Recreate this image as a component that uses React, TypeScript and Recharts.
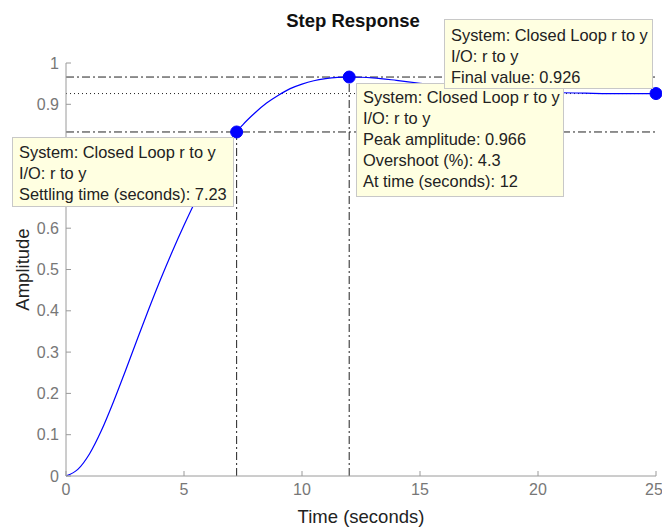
import React from 'react';
import { ComposedChart, Line, XAxis, YAxis, ReferenceLine, ReferenceDot } from 'recharts';

// step response samples
const time = [0, 0.5, 1, 1.5, 2, 2.5, 3, 3.5, 4, 4.5, 5, 5.5, 6, 6.5, 7, 7.23, 7.5, 8, 8.5, 9, 9.5, 10, 10.5, 11, 11.5, 12, 12.5, 13, 14, 15, 16, 17, 18, 19, 20, 21, 22, 23, 24, 25];
const amplitude = [0, 0.016, 0.054, 0.11, 0.178, 0.252, 0.328, 0.403, 0.475, 0.543, 0.607, 0.667, 0.722, 0.771, 0.813, 0.833, 0.851, 0.879, 0.903, 0.922, 0.938, 0.949, 0.957, 0.962, 0.965, 0.966, 0.9655, 0.964, 0.958, 0.951, 0.945, 0.94, 0.936, 0.933, 0.93, 0.928, 0.927, 0.926, 0.926, 0.926];

const xTicks = [0, 5, 10, 15, 20, 25];
const yTicks = [0, 0.1, 0.2, 0.3, 0.4, 0.5, 0.6, 0.7, 0.8, 0.9, 1];

const settlingTime = 7.23;
const settlingLevel = 0.833;
const peakTime = 12;
const peakAmplitude = 0.966;
const finalTime = 25;
const finalValue = 0.926;

const finalTip = ['System: Closed Loop r to y', 'I/O: r to y', 'Final value: 0.926'];
const peakTip = ['System: Closed Loop r to y', 'I/O: r to y', 'Peak amplitude: 0.966', 'Overshoot (%): 4.3', 'At time (seconds): 12'];
const settlingTip = ['System: Closed Loop r to y', 'I/O: r to y', 'Settling time (seconds): 7.23'];

const data = time.map((t, i) => ({ t, y: amplitude[i] }));

const FONT = '"Liberation Sans", Arial, Helvetica, sans-serif';
const AXIS = '#9a9a9a';
const DASHDOT = '8 3 2 3';

function DataTip({ lines, left, top, width, height, padTop }: { lines: string[]; left: number; top: number; width: number; height: number; padTop: number }) {
  return (
    <div
      style={{
        position: 'absolute',
        left,
        top,
        width,
        height,
        boxSizing: 'border-box',
        background: '#ffffe1',
        border: '1px solid #c8c8c8',
        padding: `${padTop}px 0 0 6px`,
        fontFamily: FONT,
        fontSize: 16.4,
        lineHeight: '21px',
        color: '#222',
        whiteSpace: 'nowrap',
        overflow: 'hidden',
      }}
    >
      {lines.map((l) => (
        <div key={l}>{l}</div>
      ))}
    </div>
  );
}

export default function App() {
  return (
    <div style={{ position: 'absolute', left: 0, top: 0, width: 662, height: 527, background: '#fff', fontFamily: FONT }}>
      <div
        style={{
          position: 'absolute',
          left: 253,
          top: 12,
          width: 200,
          textAlign: 'center',
          fontSize: 18.5,
          lineHeight: 1,
          fontWeight: 'bold',
          color: '#111',
        }}
      >
        Step Response
      </div>
      <ComposedChart width={662} height={527} data={data} margin={{ top: 63, right: 6, bottom: 0, left: 0 }}>
        <XAxis
          dataKey="t"
          type="number"
          domain={[0, 25]}
          ticks={xTicks}
          allowDataOverflow
          height={51}
          stroke={AXIS}
          tickSize={-5}
          tickMargin={13}
          tick={{ fill: '#777', fontSize: 16 }}
          label={{ value: 'Time (seconds)', position: 'insideBottom', offset: 4, fill: '#222', fontSize: 18.5 }}
        />
        <XAxis xAxisId="top" orientation="top" type="number" domain={[0, 25]} ticks={xTicks} height={0} stroke={AXIS} tickSize={-5} tick={false} />
        <YAxis
          type="number"
          domain={[0, 1]}
          ticks={yTicks}
          width={66}
          stroke={AXIS}
          tickSize={-5}
          tickMargin={12}
          tick={{ fill: '#777', fontSize: 16 }}
          label={{ value: 'Amplitude', angle: -90, position: 'insideLeft', offset: 22, fill: '#222', fontSize: 18.5, style: { textAnchor: 'middle' } }}
        />
        <YAxis yAxisId="right" orientation="right" type="number" domain={[0, 1]} ticks={yTicks} width={0} stroke={AXIS} tickSize={-5} tick={false} />

        <ReferenceLine y={peakAmplitude} stroke="#222" strokeDasharray={DASHDOT} />
        <ReferenceLine y={finalValue} stroke="#222" strokeDasharray="1 3" />
        <ReferenceLine y={settlingLevel} stroke="#222" strokeDasharray={DASHDOT} />
        <ReferenceLine segment={[{ x: settlingTime, y: 0 }, { x: settlingTime, y: settlingLevel }]} stroke="#222" strokeDasharray={DASHDOT} />
        <ReferenceLine segment={[{ x: peakTime, y: 0 }, { x: peakTime, y: peakAmplitude }]} stroke="#222" strokeDasharray={DASHDOT} />

        <Line type="monotone" dataKey="y" stroke="#0000ff" strokeWidth={1.2} dot={false} isAnimationActive={false} />

        <ReferenceDot x={settlingTime} y={settlingLevel} r={6} fill="#0000ff" stroke="#0000ff" ifOverflow="visible" />
        <ReferenceDot x={peakTime} y={peakAmplitude} r={6} fill="#0000ff" stroke="#0000ff" ifOverflow="visible" />
        <ReferenceDot x={finalTime} y={finalValue} r={6} fill="#0000ff" stroke="#0000ff" ifOverflow="visible" />
      </ComposedChart>
      <DataTip lines={settlingTip} left={12} top={137} width={222} height={70} padTop={4} />
      <DataTip lines={peakTip} left={356} top={83} width={208} height={114} padTop={3} />
      <DataTip lines={finalTip} left={444} top={19} width={209} height={70} padTop={5} />
    </div>
  );
}
